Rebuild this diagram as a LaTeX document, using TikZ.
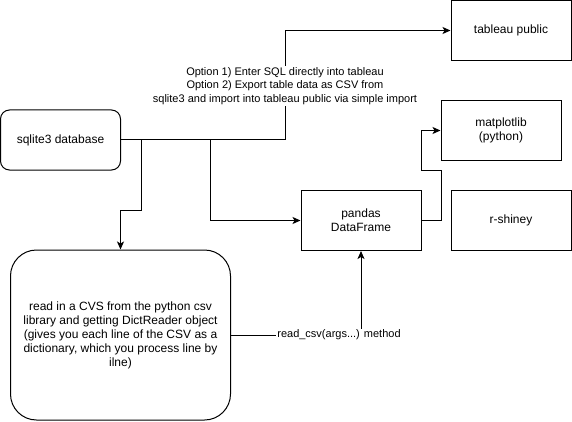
\documentclass[tikz,border=0pt]{standalone}
\usepackage{fontspec}
\setmainfont{Liberation Sans}
\usetikzlibrary{arrows.meta}
\begin{document}
\begin{tikzpicture}[x=1pt, y=-1pt, line width=1pt,
	box/.style={draw, minimum width=120pt, minimum height=60pt, inner sep=0pt,
		align=center, font=\fontsize{12}{14}\selectfont},
	rbox/.style={box, rounded corners=9pt},
	lbl/.style={fill=white, align=center, inner sep=1pt, font=\fontsize{11}{13.5}\selectfont},
	arr/.style={-{Stealth[length=8pt, width=7pt, inset=2pt]}}]
	\useasboundingbox (0,0) rectangle (572,422);
	\node[rbox] (sql) at (60.5, 140) {sqlite3 database};
	\node[box] (tab) at (511, 30.5) {tableau public};
	\node[box] (mpl) at (501, 130.5) {matplotlib\\(python)};
	\node[box] (pd) at (361, 220.5) {pandas\\DataFrame};
	\node[box] (rsh) at (511, 220.5) {r-shiney};
	\node[box, rounded corners=26pt, minimum width=220pt, minimum height=170pt] (csv) at (120.5, 335)
		{read in a CVS from the python csv\\library and getting DictReader object\\(gives you each line of the CSV as a\\dictionary, which you process line by\\ilne)};
	\draw[arr] (sql.east) -- ++(164.5,0) |- (tab.west);
	\node[lbl] (opt) at (285, 86) {Option 1) Enter SQL directly into tableau\\Option 2) Export table data as CSV from\\sqlite3 and import into tableau public via simple import};
	\draw[arr] (sql.east) -- ++(20,0) -- ++(0,70) -| (csv.north);
	\draw[arr] (sql.east) -- ++(89.5,0) |- (pd.west);
	\draw[arr] (pd.east) -- ++(20,0) -- ++(0,-50) -- ++(-20,0) |- (mpl.west);
	\draw[arr] (csv.east) -| (pd.south);
	\node[lbl] (rd) at (339, 335) {read\_csv(args...) method};
\end{tikzpicture}
\end{document}
